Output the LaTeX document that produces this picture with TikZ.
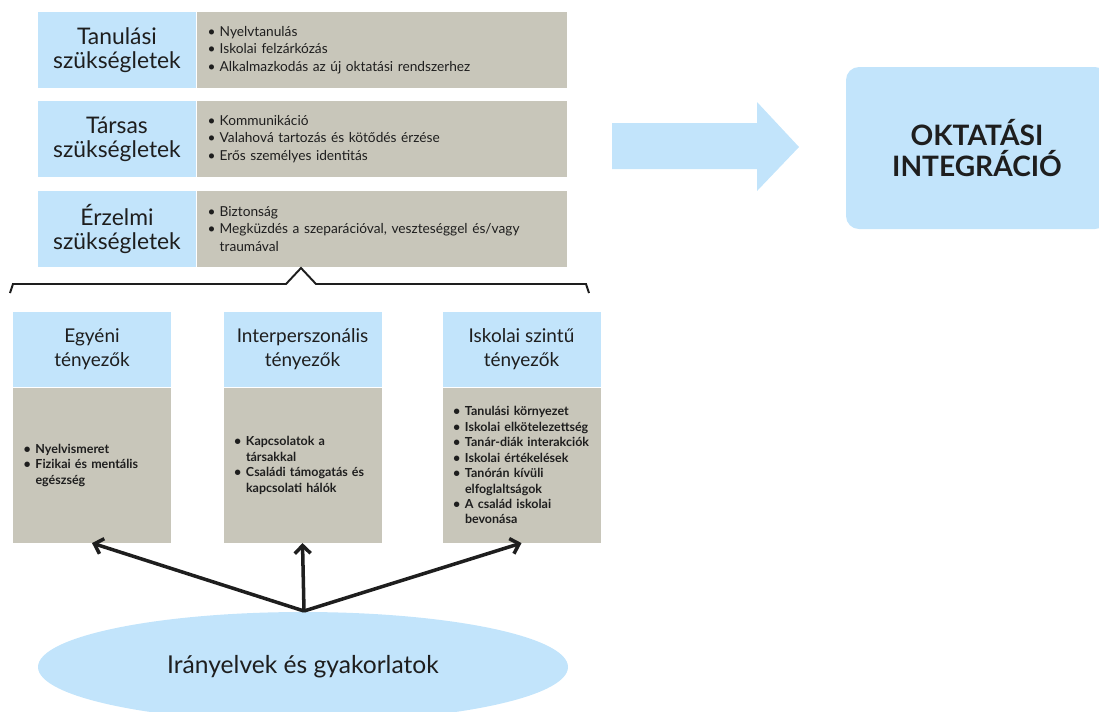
\documentclass[tikz,border=0pt]{standalone}
\usepackage{fontspec}
\setmainfont{Lato}
\usetikzlibrary{positioning,shapes.geometric,arrows.meta}

\definecolor{bluefill}{RGB}{194,228,251}
\definecolor{grayfill}{RGB}{200,198,186}
\definecolor{inkcol}{RGB}{30,30,30}

\newcommand\blt[1]{\mbox{\makebox[0.24cm][l]{\textbullet}#1}}
\newcommand\cnt[1]{\mbox{\hspace*{0.24cm}#1}}

\begin{document}
\begin{tikzpicture}[
  needbox/.style={rectangle, fill=bluefill, minimum width=3.16cm, minimum height=1.52cm, inner sep=0pt, align=center, text=inkcol, font=\fontsize{13}{13.5}\selectfont},
  needlist/.style={rectangle, fill=grayfill, minimum height=1.52cm, text width=6.96cm, inner xsep=0.22cm, inner ysep=0pt, align=left, text=inkcol, font=\fontsize{7.8}{9.9}\selectfont},
  factorhead/.style={rectangle, fill=bluefill, minimum width=3.16cm, minimum height=1.5cm, inner sep=0pt, align=center, text=inkcol, font=\fontsize{10.8}{13.6}\selectfont},
  factorlist/.style={rectangle, fill=grayfill, minimum height=3.1cm, text width=2.74cm, inner xsep=0.21cm, inner ysep=0pt, align=left, text=inkcol, font=\bfseries\fontsize{7.1}{8.8}\selectfont},
  arr/.style={-{Straight Barb[length=4.5pt,width=9pt]}, line width=2pt, inkcol},
]
  \useasboundingbox (0,0) rectangle (21.98,-14.22);
  \clip (0,0) rectangle (21.98,-14.22);

  \node[needbox] (tanul) at (2.34,-1.00) {Tanulási\\szükségletek};
  \node[needlist, right=0pt of tanul] (tanullist) {\blt{Nyelvtanulás}\\\blt{Iskolai felzárkózás}\\\blt{Alkalmazkodás az új oktatási rendszerhez}};
  \node[needbox] (tarsas) at (2.34,-2.78) {Társas\\szükségletek};
  \node[needlist, right=0pt of tarsas] (tarsaslist) {\blt{Kommunikáció}\\\blt{Valahová tartozás és kötődés érzése}\\\blt{Erős személyes identitás}};
  \node[needbox] (erzelmi) at (2.34,-4.58) {Érzelmi\\szükségletek};
  \node[needlist, right=0pt of erzelmi] (erzelmilist) {\blt{Biztonság}\\\blt{Megküzdés a szeparációval, veszteséggel és/vagy}\\\cnt{traumával}};

  \draw[inkcol, line width=1.1pt] (0.20,-5.86) -- (0.26,-5.68) -- (5.72,-5.68) -- (6.02,-5.36) -- (6.32,-5.68) -- (11.72,-5.68) -- (11.78,-5.86);

  \node[factorhead] (egyeni) at (1.84,-6.99) {Egyéni\\tényezők};
  \node[factorlist, below=0pt of egyeni] (egyenilist) {\blt{Nyelvismeret}\\\blt{Fizikai és mentális}\\\cnt{egészség}};
  \node[factorhead] (interp) at (6.05,-6.99) {Interperszonális\\tényezők};
  \node[factorlist, below=0pt of interp] (interplist) {\blt{Kapcsolatok a}\\\cnt{társakkal}\\\blt{Családi támogatás és}\\\cnt{kapcsolati hálók}};
  \node[factorhead] (iskolai) at (10.43,-6.99) {Iskolai szintű\\tényezők};
  \node[factorlist, below=0pt of iskolai] (iskolailist) {\blt{Tanulási környezet}\\\blt{Iskolai elkötelezettség}\\\blt{Tanár-diák interakciók}\\\blt{Iskolai értékelések}\\\blt{Tanórán kívüli}\\\cnt{elfoglaltságok}\\\blt{A család iskolai}\\\cnt{bevonása}};

  \node[ellipse, fill=bluefill, minimum width=10.6cm, minimum height=2.2cm, inner sep=0pt, text=inkcol, font=\fontsize{14}{16}\selectfont] (policy) at (6.06,-13.34) {Irányelvek és gyakorlatok};
  \coordinate (meet) at (6.08,-12.22);

  \draw[arr] (meet) -- (egyenilist.south);
  \draw[arr] (meet) -- (interplist.south);
  \draw[arr] (meet) -- (iskolailist.south);

  \fill[bluefill] (12.24,-2.46) -- (15.14,-2.46) -- (15.14,-2.04) -- (15.98,-2.94) -- (15.14,-3.82) -- (15.14,-3.38) -- (12.24,-3.38) -- cycle;

  \node[rectangle, rounded corners=0.26cm, fill=bluefill, minimum width=5.24cm, minimum height=3.24cm, align=center, text=inkcol, font=\bfseries\fontsize{16}{17.6}\selectfont] (integ) at (19.54,-2.96) {OKTATÁSI\\INTEGRÁCIÓ};
\end{tikzpicture}
\end{document}
